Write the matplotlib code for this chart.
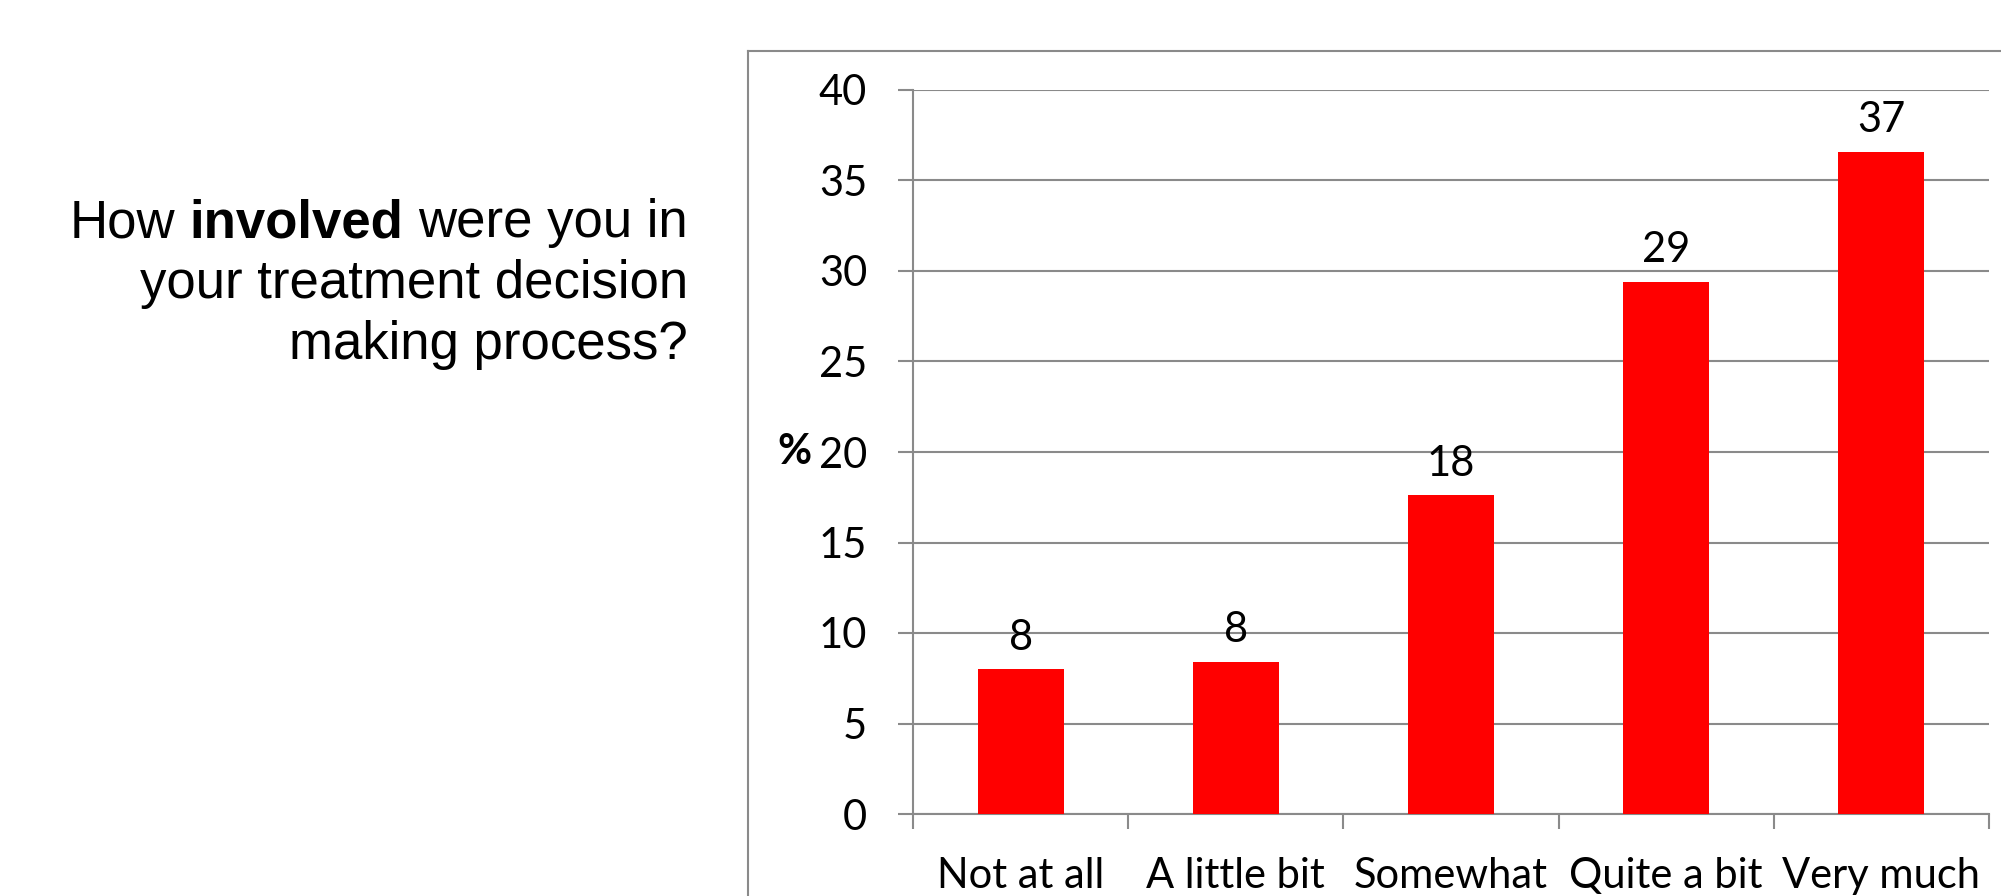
import numpy as np
import matplotlib
matplotlib.use("Agg")
import matplotlib.pyplot as plt
from matplotlib.lines import Line2D

# data
categories = ["Not at all", "A little bit", "Somewhat", "Quite a bit", "Very much"]
percent = [8.0, 8.4, 17.6, 29.4, 36.6]
yticks = [0, 5, 10, 15, 20, 25, 30, 35, 40]

W, H = 2001, 896
fig = plt.figure(figsize=(W / 100, H / 100), dpi=100)

grey = "#8a8a8a"
tick_font = "Lato"

# axes box in pixels
ax = fig.add_axes([913 / W, (H - 814) / H, (1989 - 913) / W, (814 - 90) / H])

x = np.arange(len(categories))
bars = ax.bar(x, percent, width=0.4, color="#ff0000", zorder=3)
ax.bar_label(bars, fmt="%.0f", padding=9, fontsize=30, family=tick_font)

ax.set_xlim(-0.5, len(categories) - 0.5)
ax.set_ylim(0, 40)
ax.set_yticks(yticks)
ax.set_yticklabels([str(v) for v in yticks], fontsize=30, family=tick_font)
ax.yaxis.grid(True, color=grey, linewidth=1.5, zorder=0)
ax.set_axisbelow(True)

# category boundaries get the tick marks, names sit in between
ax.set_xticks(np.arange(len(categories) + 1) - 0.5)
ax.set_xticklabels([])
ax.set_xticks(x, minor=True)
ax.set_xticklabels(categories, minor=True, fontsize=30, family=tick_font)
ax.tick_params(axis="x", which="major", length=11, width=1.5, color=grey, direction="out")
ax.tick_params(axis="x", which="minor", length=0, pad=31)
ax.tick_params(axis="y", length=11, width=1.5, color=grey, direction="out", pad=22)

for s in ["top", "right"]:
    ax.spines[s].set_visible(False)
for s in ["left", "bottom"]:
    ax.spines[s].set_color(grey)
    ax.spines[s].set_linewidth(1.5)

ax.set_ylabel("%", rotation=0, fontsize=30, fontweight="bold", family=tick_font,
              ha="right", va="center")
ax.yaxis.set_label_coords(-0.094, 0.5)

# outer frame (left and top edges only are visible)
fig.add_artist(Line2D([748 / W, 748 / W], [0, 1 - 51 / H], color=grey, lw=1.5,
                      transform=fig.transFigure))
fig.add_artist(Line2D([748 / W, 1], [1 - 51 / H, 1 - 51 / H], color=grey, lw=1.5,
                      transform=fig.transFigure))

# question text on the left, right aligned
qfont = "Liberation Sans"
qsize = 38
xr = 688 / W
t1 = fig.text(xr, 1 - 237 / H, "were you in", ha="right", va="baseline",
              fontsize=qsize, family=qfont)
t2 = fig.text(0, 0, "involved", ha="right", va="baseline", fontsize=qsize,
              family=qfont, fontweight="bold")
t3 = fig.text(0, 0, "How", ha="right", va="baseline", fontsize=qsize, family=qfont)
fig.text(xr, 1 - 298 / H, "your treatment decision", ha="right", va="baseline",
         fontsize=qsize, family=qfont)
fig.text(xr, 1 - 359 / H, "making process?", ha="right", va="baseline",
         fontsize=qsize, family=qfont)

fig.canvas.draw()
r = fig.canvas.get_renderer()
space = 0.278 * qsize * 100 / 72  # space width in px
b1 = t1.get_window_extent(r)
t2.set_position(((b1.x0 - space) / W, 1 - 237 / H))
fig.canvas.draw()
b2 = t2.get_window_extent(r)
t3.set_position(((b2.x0 - space) / W, 1 - 237 / H))

fig.savefig("out.png", dpi=100)
